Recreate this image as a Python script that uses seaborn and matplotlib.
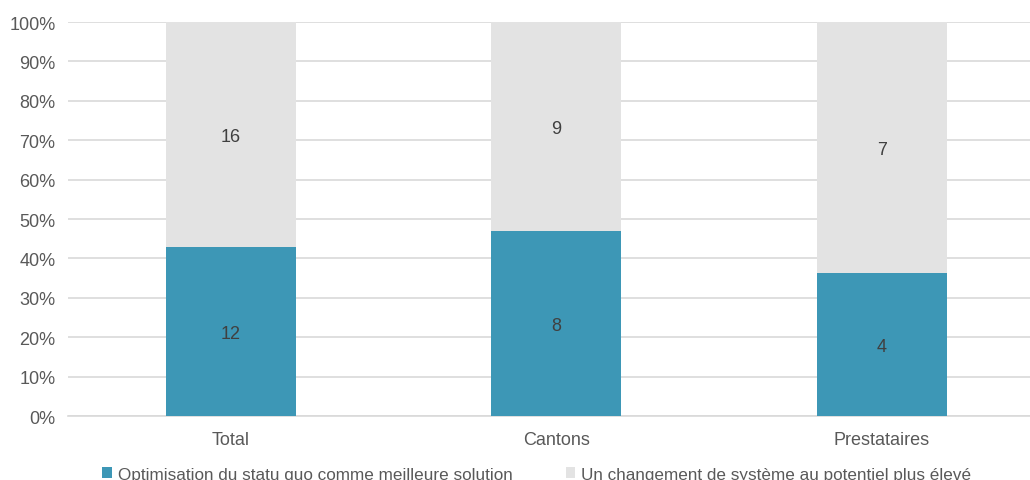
import matplotlib
matplotlib.use("Agg")
import matplotlib.pyplot as plt
from matplotlib.patches import Patch
import seaborn as sns
import pandas as pd

categories = ["Total", "Cantons", "Prestataires"]
optimisation = [12, 8, 4]
changement = [16, 9, 7]
series_labels = ["Optimisation du statu quo comme meilleure solution",
                 "Un changement de système au potentiel plus élevé"]

teal = "#3D97B6"
grey = "#E3E3E3"
text_col = "#595959"
label_col = "#404040"

sns.set_theme(style="white")
plt.rcParams["font.family"] = ["Liberation Sans", "DejaVu Sans"]

totals = [a + b for a, b in zip(optimisation, changement)]
df = pd.DataFrame({
    "cat": categories,
    "opt_pct": [a / t * 100 for a, t in zip(optimisation, totals)],
    "all_pct": [100.0] * len(categories),
})

fig = plt.figure(figsize=(10.3, 4.81), dpi=100)
ax = fig.add_axes([0.066, 0.133, 0.934, 0.819])

sns.barplot(data=df, x="cat", y="all_pct", color=grey, width=0.4,
            saturation=1, linewidth=0, ax=ax, zorder=2)
sns.barplot(data=df, x="cat", y="opt_pct", color=teal, width=0.4,
            saturation=1, linewidth=0, ax=ax, zorder=3)

for i, (o, c, p) in enumerate(zip(optimisation, changement, df["opt_pct"])):
    ax.text(i, p / 2 - 0.5, str(o), ha="center", va="center", fontsize=13,
            color=label_col, zorder=4)
    ax.text(i, p + (100 - p) / 2 - 0.5, str(c), ha="center", va="center",
            fontsize=13, color=label_col, zorder=4)

ax.set_ylim(0, 100)
ax.set_xlim(-0.5, 2.455)
ax.set_yticks(range(0, 101, 10))
ax.set_yticklabels([f"{v}%" for v in range(0, 101, 10)])
ax.yaxis.grid(True, color="#D9D9D9", linewidth=1.2, zorder=0)
ax.set_axisbelow(True)
for s in ["top", "right", "left"]:
    ax.spines[s].set_visible(False)
ax.spines["bottom"].set_color("#D9D9D9")
ax.spines["bottom"].set_linewidth(1.2)
ax.set_xlabel("")
ax.set_ylabel("")
ax.tick_params(axis="y", labelsize=13, colors=text_col, length=0, pad=9)
ax.tick_params(axis="x", labelsize=13, colors=text_col, length=0, pad=11)

handles = [Patch(facecolor=teal, edgecolor="none"),
           Patch(facecolor=grey, edgecolor="none")]
fig.legend(handles, series_labels, loc="center", bbox_to_anchor=(0.521, 0.012),
           ncol=2, frameon=False, fontsize=12.35, handlelength=0.55,
           handleheight=0.55, handletextpad=0.35, columnspacing=3.1,
           labelcolor=text_col)

fig.savefig("out.png", dpi=100)
